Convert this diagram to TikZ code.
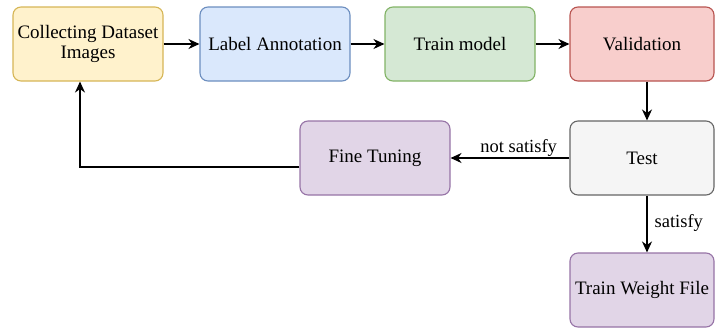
\documentclass[tikz,border=0pt]{standalone}
\usepackage{fontspec}
\setmainfont{Liberation Serif}
\usepackage{tikz}
\usetikzlibrary{positioning}
\usetikzlibrary{arrows.meta}
\usepackage{xcolor}
\definecolor{yfill}{HTML}{FFF2CC}\definecolor{ydraw}{HTML}{D6B656}
\definecolor{bfill}{HTML}{DAE8FC}\definecolor{bdraw}{HTML}{6C8EBF}
\definecolor{gfill}{HTML}{D5E8D4}\definecolor{gdraw}{HTML}{82B366}
\definecolor{rfill}{HTML}{F8CECC}\definecolor{rdraw}{HTML}{B85450}
\definecolor{tfill}{HTML}{F5F5F5}\definecolor{tdraw}{HTML}{666666}
\definecolor{pfill}{HTML}{E1D5E7}\definecolor{pdraw}{HTML}{9673A6}

\begin{document}
\begin{tikzpicture}[x=1pt,y=-1pt,
  box/.style={draw, rounded corners=8pt, line width=1.1pt, minimum width=150pt,
    minimum height=74pt, inner sep=0pt, align=center,
    font=\fontsize{19}{20}\selectfont},
  narrowbox/.style={box, minimum width=144pt},
  arr/.style={-{Stealth[length=11pt,width=10pt,inset=3.5pt]}, line width=1.3pt},
  lbl/.style={inner sep=0pt, font=\fontsize{18.5}{19}\selectfont}]
\useasboundingbox (0,0) rectangle (715,330);
% top row
\node[box, fill=yfill, draw=ydraw] (collect) at (88,44) {Collecting Dataset\\Images};
\node[box, fill=bfill, draw=bdraw] (annot) at (275,44) {Label Annotation};
\node[box, fill=gfill, draw=gdraw] (train) at (460,44) {Train model};
\node[narrowbox, fill=rfill, draw=rdraw] (valid) at (642,44) {Validation};
% lower part
\node[box, fill=pfill, draw=pdraw] (fine) at (375,158) {Fine Tuning};
\node[narrowbox, fill=tfill, draw=tdraw] (test) at (642,158) {Test};
\node[narrowbox, fill=pfill, draw=pdraw] (weight) at (642,290) {Train Weight File};
% connectors
\draw[arr] (collect) -- (annot);
\draw[arr] (annot) -- (train);
\draw[arr] (train) -- (valid);
\draw[arr] ([xshift=5pt]valid.south) -- ([xshift=5pt]test.north);
\draw[arr] (test) -- node[lbl, pos=0.1, anchor=south east, yshift=1pt] {not satisfy} (fine);
\draw[arr] ([xshift=5pt]test.south) -- node[lbl, pos=0.48, anchor=west, xshift=7pt] {satisfy} ([xshift=5pt]weight.north);
\draw[arr] ([yshift=-9pt]fine.west) -| ([xshift=-8pt]collect.south);
\end{tikzpicture}
\end{document}
